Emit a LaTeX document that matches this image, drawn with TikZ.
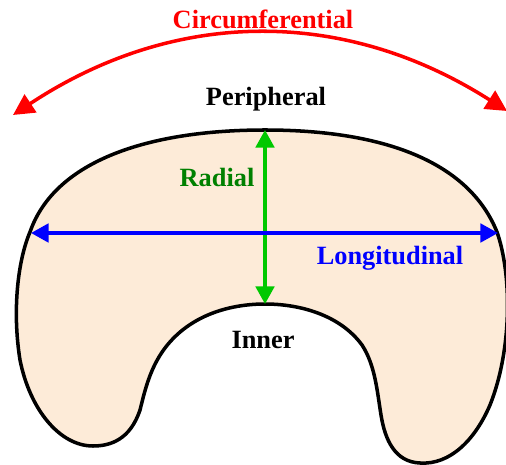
\documentclass[tikz,border=0pt]{standalone}
\usepackage{fontspec}
\setmainfont{Liberation Serif}
\usetikzlibrary{arrows.meta}
\usetikzlibrary{positioning}
\definecolor{tissue}{RGB}{253,235,216}
\definecolor{radgreen}{RGB}{0,200,0}
\definecolor{radtext}{RGB}{0,128,0}

\begin{document}
\begin{tikzpicture}[x=0.02cm, y=-0.02cm]
    \tikzset{Label/.style={font=\fontsize{15}{18}\selectfont\bfseries, anchor=base, inner sep=0pt}};
    \tikzset{Axis/.style={line width=2pt, {Triangle[length=10pt, width=10.5pt]}-{Triangle[length=10pt, width=10.5pt]}}};

    \useasboundingbox (0,0) rectangle (506,465);

    % outline of the section
    \draw[line width=2pt, fill=tissue]
        (265,130) .. controls (390,130) and (470,165) .. (497,232)
        .. controls (512,275) and (512,350) .. (490,405)
        .. controls (475,440) and (450,465) .. (420,463)
        .. controls (395,462) and (385,440) .. (381,415)
        .. controls (377,390) and (375,365) .. (362,345)
        .. controls (340,315) and (300,304) .. (265,304)
        .. controls (230,304) and (190,315) .. (165,348)
        .. controls (150,368) and (145,390) .. (140,410)
        .. controls (130,440) and (110,446) .. (93,446)
        .. controls (60,446) and (30,410) .. (20,360)
        .. controls (12,310) and (18,260) .. (30,232)
        .. controls (55,160) and (150,130) .. (265,130) -- cycle;

    \coordinate (outer) at (265,130);
    \coordinate (inner) at (265,304);
    \coordinate (west) at (31,233);
    \coordinate (east) at (498,233);
    \coordinate (arcW) at (13,115);
    \coordinate (arcE) at (507,111);

    \node[Label] (peri) at (266,106) {Peripheral};
    \node[Label] (inn) at (263,348) {Inner};
    \node[Label, text=radtext] (rad) at (217,187) {Radial};
    \node[Label, text=blue] (longi) at (390,265) {Longitudinal};
    \node[Label, text=red] (circ) at (263,29) {Circumferential};

    \draw[Axis, radgreen] (outer) -- (inner);
    \draw[Axis, blue] (west) -- (east);
    \draw[line width=2pt, red, {Triangle[length=12pt, width=12pt]}-{Triangle[length=12pt, width=12pt]}]
        (arcW) to[bend left=33] (arcE);
\end{tikzpicture}
\end{document}
